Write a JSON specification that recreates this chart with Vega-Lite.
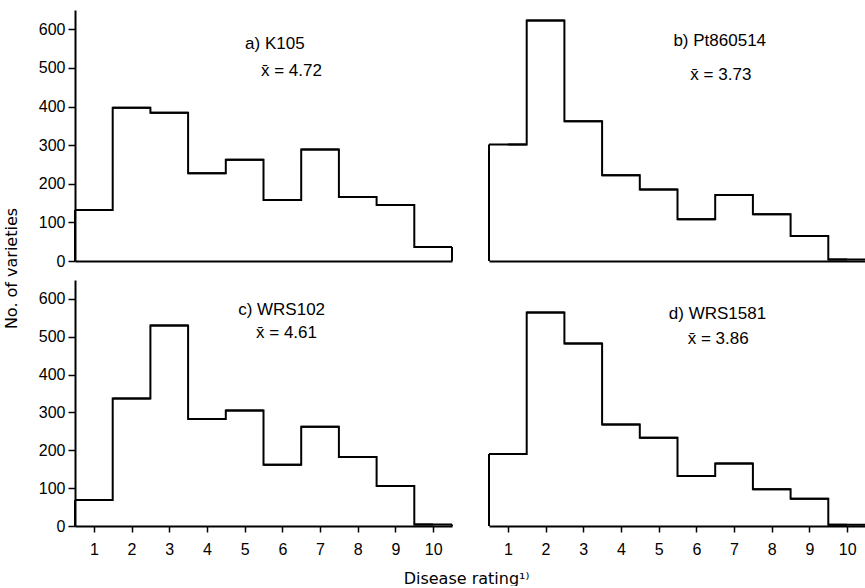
{
  "$schema": "https://vega.github.io/schema/vega-lite/v6.json",
  "padding": {"left": 3, "top": 10, "right": 0, "bottom": 0},
  "background": "white",
  "config": {
    "view": {"stroke": null},
    "axis": {"grid": false, "domainColor": "black", "domainWidth": 2, "tickColor": "black", "tickWidth": 1.5, "labelColor": "black", "labelFont": "Liberation Sans", "labelFontSize": 16, "titleFont": "DejaVu Sans", "titleFontSize": 15, "titleFontWeight": "normal", "titleColor": "black"},
    "text": {"font": "Liberation Sans", "fontSize": 17, "color": "black", "align": "center", "baseline": "middle"},
    "rule": {"color": "black", "strokeWidth": 2},
    "line": {"color": "black", "strokeWidth": 2}
  },
  "datasets": {
    "a": [
      {"rating": 1, "bin_start": 0.5, "bin_end": 1.5, "count": 132},
      {"rating": 2, "bin_start": 1.5, "bin_end": 2.5, "count": 397},
      {"rating": 3, "bin_start": 2.5, "bin_end": 3.5, "count": 384},
      {"rating": 4, "bin_start": 3.5, "bin_end": 4.5, "count": 227},
      {"rating": 5, "bin_start": 4.5, "bin_end": 5.5, "count": 262},
      {"rating": 6, "bin_start": 5.5, "bin_end": 6.5, "count": 158},
      {"rating": 7, "bin_start": 6.5, "bin_end": 7.5, "count": 289},
      {"rating": 8, "bin_start": 7.5, "bin_end": 8.5, "count": 166},
      {"rating": 9, "bin_start": 8.5, "bin_end": 9.5, "count": 145},
      {"rating": 10, "bin_start": 9.5, "bin_end": 10.5, "count": 36}
    ],
    "b": [
      {"rating": 1, "bin_start": 0.5, "bin_end": 1.5, "count": 302},
      {"rating": 2, "bin_start": 1.5, "bin_end": 2.5, "count": 623},
      {"rating": 3, "bin_start": 2.5, "bin_end": 3.5, "count": 362},
      {"rating": 4, "bin_start": 3.5, "bin_end": 4.5, "count": 222},
      {"rating": 5, "bin_start": 4.5, "bin_end": 5.5, "count": 185},
      {"rating": 6, "bin_start": 5.5, "bin_end": 6.5, "count": 108},
      {"rating": 7, "bin_start": 6.5, "bin_end": 7.5, "count": 171},
      {"rating": 8, "bin_start": 7.5, "bin_end": 8.5, "count": 121},
      {"rating": 9, "bin_start": 8.5, "bin_end": 9.5, "count": 65},
      {"rating": 10, "bin_start": 9.5, "bin_end": 10.5, "count": 4}
    ],
    "c": [
      {"rating": 1, "bin_start": 0.5, "bin_end": 1.5, "count": 69},
      {"rating": 2, "bin_start": 1.5, "bin_end": 2.5, "count": 337},
      {"rating": 3, "bin_start": 2.5, "bin_end": 3.5, "count": 530},
      {"rating": 4, "bin_start": 3.5, "bin_end": 4.5, "count": 283},
      {"rating": 5, "bin_start": 4.5, "bin_end": 5.5, "count": 305},
      {"rating": 6, "bin_start": 5.5, "bin_end": 6.5, "count": 162},
      {"rating": 7, "bin_start": 6.5, "bin_end": 7.5, "count": 262},
      {"rating": 8, "bin_start": 7.5, "bin_end": 8.5, "count": 182},
      {"rating": 9, "bin_start": 8.5, "bin_end": 9.5, "count": 106},
      {"rating": 10, "bin_start": 9.5, "bin_end": 10.5, "count": 4}
    ],
    "d": [
      {"rating": 1, "bin_start": 0.5, "bin_end": 1.5, "count": 190},
      {"rating": 2, "bin_start": 1.5, "bin_end": 2.5, "count": 564},
      {"rating": 3, "bin_start": 2.5, "bin_end": 3.5, "count": 482},
      {"rating": 4, "bin_start": 3.5, "bin_end": 4.5, "count": 268},
      {"rating": 5, "bin_start": 4.5, "bin_end": 5.5, "count": 233},
      {"rating": 6, "bin_start": 5.5, "bin_end": 6.5, "count": 132},
      {"rating": 7, "bin_start": 6.5, "bin_end": 7.5, "count": 165},
      {"rating": 8, "bin_start": 7.5, "bin_end": 8.5, "count": 97},
      {"rating": 9, "bin_start": 8.5, "bin_end": 9.5, "count": 72},
      {"rating": 10, "bin_start": 9.5, "bin_end": 10.5, "count": 3}
    ]
  },
  "columns": 2,
  "spacing": {"row": 19, "column": 37},
  "bounds": "flush",
  "concat": [
    {
      "width": 377, "height": 251,
      "data": {"name": "a"},
      "layer": [
        {"mark": "rule", "encoding": {
          "x": {"field": "bin_start", "type": "quantitative", "scale": {"domain": [0.5, 10.5], "nice": false, "zero": false}, "axis": {"title": null, "labels": false, "ticks": false}},
          "x2": {"field": "bin_end"},
          "y": {"field": "count", "type": "quantitative", "scale": {"domain": [0, 650], "nice": false}, "axis": {"title": "No. of varieties", "values": [0, 100, 200, 300, 400, 500, 600], "tickSize": 7, "labelPadding": 3, "titleFontSize": 16, "titleX": -56, "titleY": 258, "titleAlign": "center"}}}},
        {"mark": {"type": "line", "interpolate": "step"}, "encoding": {
          "x": {"field": "rating", "type": "quantitative"},
          "y": {"field": "count", "type": "quantitative"}}},
        {"transform": [{"filter": "datum.rating == 1"}], "mark": "rule", "encoding": {
          "x": {"field": "bin_start", "type": "quantitative"},
          "y": {"field": "count", "type": "quantitative"}, "y2": {"datum": 0}}},
        {"transform": [{"filter": "datum.rating == 10"}], "mark": "rule", "encoding": {
          "x": {"field": "bin_end", "type": "quantitative"},
          "y": {"field": "count", "type": "quantitative"}, "y2": {"datum": 0}}},
        {"data": {"values": [{}]}, "mark": "text", "encoding": {"x": {"datum": 5.8}, "y": {"datum": 561}, "text": {"value": "a) K105"}}},
        {"data": {"values": [{}]}, "mark": "text", "encoding": {"x": {"datum": 6.24}, "y": {"datum": 493}, "text": {"value": "x̄ = 4.72"}}}
      ]
    },
    {
      "width": 377, "height": 251,
      "data": {"name": "b"},
      "layer": [
        {"mark": "rule", "encoding": {
          "x": {"field": "bin_start", "type": "quantitative", "scale": {"domain": [0.5, 10.5], "nice": false, "zero": false}, "axis": {"title": null, "labels": false, "ticks": false}},
          "x2": {"field": "bin_end"},
          "y": {"field": "count", "type": "quantitative", "scale": {"domain": [0, 650], "nice": false}, "axis": null}}},
        {"mark": {"type": "line", "interpolate": "step"}, "encoding": {
          "x": {"field": "rating", "type": "quantitative"},
          "y": {"field": "count", "type": "quantitative"}}},
        {"transform": [{"filter": "datum.rating == 1"}], "mark": "rule", "encoding": {
          "x": {"field": "bin_start", "type": "quantitative"},
          "y": {"field": "count", "type": "quantitative"}, "y2": {"datum": 0}}},
        {"transform": [{"filter": "datum.rating == 10"}], "mark": "rule", "encoding": {
          "x": {"field": "bin_end", "type": "quantitative"},
          "y": {"field": "count", "type": "quantitative"}, "y2": {"datum": 0}}},
        {"data": {"values": [{}]}, "mark": "text", "encoding": {"x": {"datum": 6.62}, "y": {"datum": 570}, "text": {"value": "b) Pt860514"}}},
        {"data": {"values": [{}]}, "mark": "text", "encoding": {"x": {"datum": 6.65}, "y": {"datum": 482}, "text": {"value": "x̄ = 3.73"}}}
      ]
    },
    {
      "width": 377, "height": 246,
      "data": {"name": "c"},
      "layer": [
        {"mark": "rule", "encoding": {
          "x": {"field": "bin_start", "type": "quantitative", "scale": {"domain": [0.5, 10.5], "nice": false, "zero": false}, "axis": {"title": "Disease rating¹⁾", "values": [1, 2, 3, 4, 5, 6, 7, 8, 9, 10], "tickSize": 6, "labelPadding": 9, "titleFontSize": 16, "titleX": 391, "titleY": 44}},
          "x2": {"field": "bin_end"},
          "y": {"field": "count", "type": "quantitative", "scale": {"domain": [0, 650], "nice": false}, "axis": {"title": null, "values": [0, 100, 200, 300, 400, 500, 600], "tickSize": 7, "labelPadding": 3}}}},
        {"mark": {"type": "line", "interpolate": "step"}, "encoding": {
          "x": {"field": "rating", "type": "quantitative"},
          "y": {"field": "count", "type": "quantitative"}}},
        {"transform": [{"filter": "datum.rating == 1"}], "mark": "rule", "encoding": {
          "x": {"field": "bin_start", "type": "quantitative"},
          "y": {"field": "count", "type": "quantitative"}, "y2": {"datum": 0}}},
        {"transform": [{"filter": "datum.rating == 10"}], "mark": "rule", "encoding": {
          "x": {"field": "bin_end", "type": "quantitative"},
          "y": {"field": "count", "type": "quantitative"}, "y2": {"datum": 0}}},
        {"data": {"values": [{}]}, "mark": "text", "encoding": {"x": {"datum": 5.98}, "y": {"datum": 570}, "text": {"value": "c) WRS102"}}},
        {"data": {"values": [{}]}, "mark": "text", "encoding": {"x": {"datum": 6.11}, "y": {"datum": 510}, "text": {"value": "x̄ = 4.61"}}}
      ]
    },
    {
      "width": 377, "height": 246,
      "data": {"name": "d"},
      "layer": [
        {"mark": "rule", "encoding": {
          "x": {"field": "bin_start", "type": "quantitative", "scale": {"domain": [0.5, 10.5], "nice": false, "zero": false}, "axis": {"title": null, "values": [1, 2, 3, 4, 5, 6, 7, 8, 9, 10], "tickSize": 6, "labelPadding": 9}},
          "x2": {"field": "bin_end"},
          "y": {"field": "count", "type": "quantitative", "scale": {"domain": [0, 650], "nice": false}, "axis": null}}},
        {"mark": {"type": "line", "interpolate": "step"}, "encoding": {
          "x": {"field": "rating", "type": "quantitative"},
          "y": {"field": "count", "type": "quantitative"}}},
        {"transform": [{"filter": "datum.rating == 1"}], "mark": "rule", "encoding": {
          "x": {"field": "bin_start", "type": "quantitative"},
          "y": {"field": "count", "type": "quantitative"}, "y2": {"datum": 0}}},
        {"transform": [{"filter": "datum.rating == 10"}], "mark": "rule", "encoding": {
          "x": {"field": "bin_end", "type": "quantitative"},
          "y": {"field": "count", "type": "quantitative"}, "y2": {"datum": 0}}},
        {"data": {"values": [{}]}, "mark": "text", "encoding": {"x": {"datum": 6.56}, "y": {"datum": 559}, "text": {"value": "d) WRS1581"}}},
        {"data": {"values": [{}]}, "mark": "text", "encoding": {"x": {"datum": 6.58}, "y": {"datum": 495}, "text": {"value": "x̄ = 3.86"}}}
      ]
    }
  ]
}
